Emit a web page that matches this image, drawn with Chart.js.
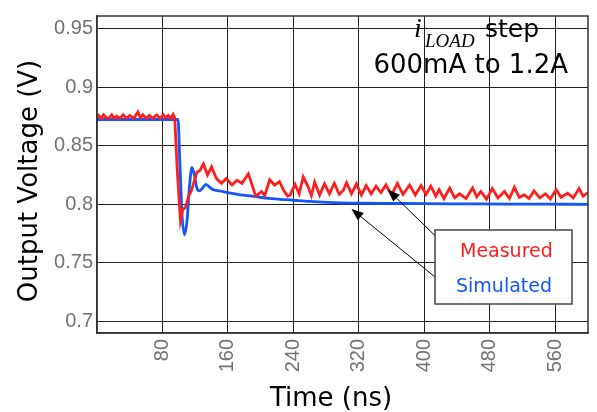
<!DOCTYPE html>
<html>
<head>
<meta charset="utf-8">
<script src="https://cdn.jsdelivr.net/npm/chart.js@4/dist/chart.umd.min.js"></script>
<style>
    body { margin: 0; background: #fff; }
    #chart { display: block; }
</style>
</head>
<body>
<canvas id="chart" width="597" height="412"></canvas>
<script>
// Load step response data
const measuredTime = [0, 2, 5, 8, 12, 15, 18, 21, 24, 28, 32, 36, 40, 45, 50, 53, 56, 60, 64, 68, 73, 77, 81, 84, 87, 90, 93, 95,
    98, 102, 105, 108, 112, 116, 122, 126, 130, 135, 140, 146, 152, 158, 165, 171, 177, 185, 194, 201, 205, 211, 217, 223, 228, 233,
    236, 242, 247, 252, 258, 262, 266, 272, 278, 284, 290, 296, 301, 305, 311, 317, 323, 329, 335, 341, 347, 353, 360, 367, 374, 382,
    389, 396, 402, 408, 414, 418, 424, 431, 437, 443, 451, 459, 464, 469, 476, 483, 490, 498, 504, 510, 516, 522, 528, 534, 541, 548,
    554, 561, 567, 575, 582, 589, 594, 600];
const measuredVolt = [0.8745, 0.876, 0.8735, 0.8765, 0.8735, 0.874, 0.8765, 0.8735, 0.8755, 0.8735, 0.8765, 0.8735, 0.876, 0.8735, 0.879, 0.874, 0.8765, 0.8735, 0.876, 0.8735, 0.8765, 0.8735, 0.8765, 0.874, 0.876, 0.8735, 0.877, 0.874,
    0.83, 0.786, 0.796, 0.797, 0.807, 0.813, 0.8275, 0.829, 0.8345, 0.825, 0.832, 0.822, 0.818, 0.822, 0.8165, 0.8205, 0.818, 0.826, 0.807, 0.811, 0.8075, 0.821, 0.8165, 0.8195, 0.812, 0.807,
    0.808, 0.817, 0.809, 0.8235, 0.815, 0.8075, 0.819, 0.808, 0.8175, 0.809, 0.818, 0.8085, 0.812, 0.8185, 0.809, 0.8175, 0.808, 0.816, 0.809, 0.8155, 0.81, 0.8165, 0.808, 0.818, 0.8085, 0.8165,
    0.808, 0.816, 0.8085, 0.8155, 0.807, 0.8125, 0.805, 0.814, 0.8055, 0.809, 0.805, 0.814, 0.8065, 0.811, 0.8045, 0.8135, 0.8055, 0.811, 0.805, 0.8145, 0.806, 0.808, 0.805, 0.8115, 0.8055, 0.809,
    0.8045, 0.8125, 0.806, 0.8095, 0.8055, 0.8135, 0.807, 0.81];

const simulatedTime = [0, 99, 101, 104, 107, 110, 113, 116, 119, 122, 125, 129, 133, 137, 142, 150, 160, 175, 190, 210, 240, 260, 290, 320, 360, 400, 450, 500, 550, 600];
const simulatedVolt = [0.8725, 0.8725, 0.84, 0.79, 0.774, 0.786, 0.815, 0.8315, 0.825, 0.814, 0.8115, 0.814, 0.817, 0.815, 0.8125, 0.8115, 0.81, 0.808, 0.807, 0.805, 0.8035, 0.8025, 0.8015, 0.801, 0.8008, 0.8006, 0.8004, 0.8002, 0.8001, 0.8];

const xTicks = [80, 160, 240, 320, 400, 480, 560];
const yTicks = [0.7, 0.75, 0.8, 0.85, 0.9, 0.95];

const RED = '#ff1e1e';
const BLUE = '#1256ff';
const TICK_FONT = { family: 'Liberation Sans', size: 20 };

const toPoints = (xs, ys) => xs.map((x, i) => ({ x: x, y: ys[i] }));

// Frame, titles, callout text, legend box and arrows
const decorations = {
    id: 'decorations',
    afterDatasetsDraw(chart) {
        const { ctx, chartArea: a, scales: { x, y } } = chart;
        ctx.save();

        // top and right edges of the plot frame
        ctx.strokeStyle = '#333';
        ctx.lineWidth = 1.5;
        ctx.strokeRect(a.left, a.top, a.right - a.left, a.bottom - a.top);

        // axis titles
        ctx.fillStyle = '#000';
        ctx.font = "26px 'DejaVu Sans'";
        ctx.textAlign = 'center';
        ctx.textBaseline = 'alphabetic';
        ctx.fillText('Time (ns)', 331, 406);
        ctx.save();
        ctx.translate(37, 181);
        ctx.rotate(-Math.PI / 2);
        ctx.fillText('Output Voltage (V)', 0, 0);
        ctx.restore();

        // i_LOAD step caption
        ctx.textAlign = 'left';
        ctx.font = "italic 28px 'Liberation Serif'";
        ctx.fillText('i', 414, 37);
        ctx.font = "italic 19px 'Liberation Serif'";
        ctx.fillText('LOAD', 425, 47);
        ctx.font = "25px 'DejaVu Sans'";
        ctx.fillText('step', 485, 37);
        ctx.textAlign = 'right';
        ctx.font = "26px 'DejaVu Sans'";
        ctx.fillText('600mA to 1.2A', 568, 73);

        // arrows from the labels to the traces
        this.arrow(ctx, x.getPixelForValue(433), y.getPixelForValue(0.7596), x.getPixelForValue(355.5), y.getPixelForValue(0.8125));
        this.arrow(ctx, x.getPixelForValue(428), y.getPixelForValue(0.7293), x.getPixelForValue(311), y.getPixelForValue(0.796));

        // label box
        ctx.fillStyle = '#fff';
        ctx.fillRect(435, 230, 137, 74);
        ctx.strokeStyle = '#444';
        ctx.lineWidth = 1.5;
        ctx.strokeRect(435, 230, 137, 74);
        ctx.font = "19px 'DejaVu Sans'";
        ctx.textAlign = 'left';
        ctx.fillStyle = RED;
        ctx.fillText('Measured', 460, 257);
        ctx.fillStyle = BLUE;
        ctx.fillText('Simulated', 456, 292);

        ctx.restore();
    },

    arrow(ctx, x0, y0, x1, y1) {
        const ang = Math.atan2(y1 - y0, x1 - x0);
        const len = 13, half = 0.38;
        ctx.strokeStyle = '#000';
        ctx.fillStyle = '#000';
        ctx.lineWidth = 1;
        ctx.beginPath();
        ctx.moveTo(x0, y0);
        ctx.lineTo(x1 - Math.cos(ang) * len * 0.8, y1 - Math.sin(ang) * len * 0.8);
        ctx.stroke();
        ctx.beginPath();
        ctx.moveTo(x1, y1);
        ctx.lineTo(x1 - len * Math.cos(ang - half), y1 - len * Math.sin(ang - half));
        ctx.lineTo(x1 - len * Math.cos(ang + half), y1 - len * Math.sin(ang + half));
        ctx.closePath();
        ctx.fill();
    }
};

new Chart(document.getElementById('chart'), {
    type: 'line',
    data: {
        datasets: [
            {
                label: 'Measured',
                data: toPoints(measuredTime, measuredVolt),
                borderColor: RED,
                borderWidth: 2.8,
                pointRadius: 0,
                tension: 0
            },
            {
                label: 'Simulated',
                data: toPoints(simulatedTime, simulatedVolt),
                borderColor: BLUE,
                borderWidth: 2.8,
                pointRadius: 0,
                cubicInterpolationMode: 'monotone'
            }
        ]
    },
    options: {
        responsive: false,
        animation: false,
        layout: { padding: { top: 5, right: 9, left: 0, bottom: 0 } },
        plugins: { legend: { display: false }, tooltip: { enabled: false } },
        scales: {
            x: {
                type: 'linear',
                min: 0,
                max: 600,
                afterBuildTicks: s => { s.ticks = xTicks.map(v => ({ value: v })); },
                afterFit: s => { s.height = 79; },
                ticks: { color: '#727272', font: TICK_FONT, minRotation: 90, maxRotation: 90, padding: 6 },
                grid: { color: '#222', lineWidth: 1, drawTicks: false },
                border: { color: '#333', width: 1.5 }
            },
            y: {
                min: 0.69,
                max: 0.961,
                afterBuildTicks: s => { s.ticks = yTicks.map(v => ({ value: v })); },
                afterFit: s => { s.width = 97; },
                ticks: { color: '#727272', font: TICK_FONT, padding: 4, callback: v => String(v) },
                grid: { color: '#222', lineWidth: 1, drawTicks: false },
                border: { color: '#333', width: 1.5 }
            }
        }
    },
    plugins: [decorations]
});
</script>
</body>
</html>
